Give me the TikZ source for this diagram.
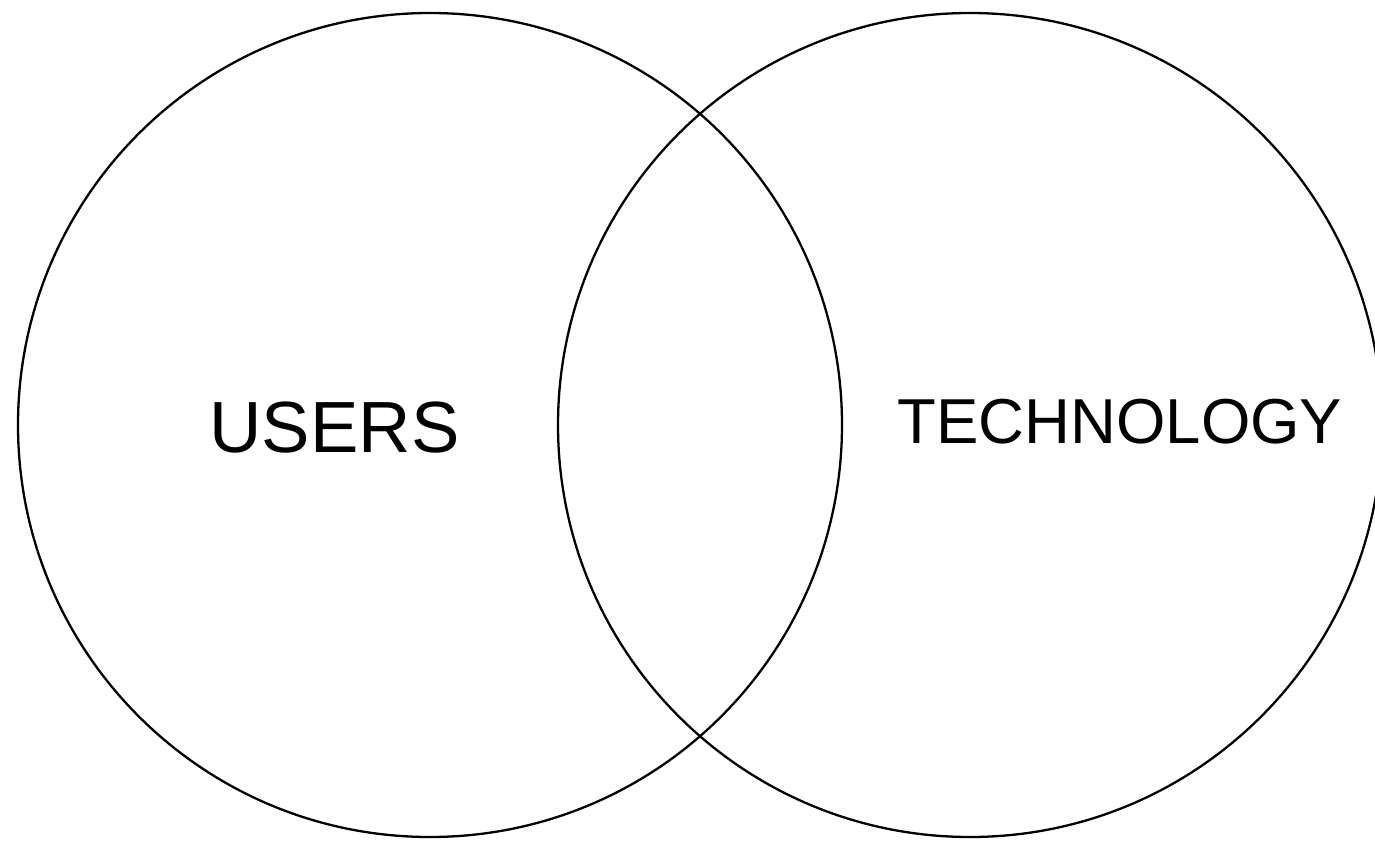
\documentclass[tikz,border=0pt]{standalone}
\usepackage{fontspec}
\setmainfont{Liberation Sans}
\begin{document}
\begin{tikzpicture}[x=1pt,y=-1pt,
  setcircle/.style={draw=black, line width=2.3pt, circle, inner sep=0pt, minimum size=824pt},
  label/.style={anchor=base, inner sep=0pt}]
\clip (0,0) rectangle (1375,840);
\node[setcircle] (users) at (430,425) {};
\node[setcircle] (tech) at (970,425) {};
\node[label, font=\fontsize{72.5}{80}\selectfont] (ulabel) at (334.5,452) {USERS};
\node[label, font=\fontsize{63.5}{72}\selectfont] (tlabel) at (1120,443) {TECHNOLOGY};
\end{tikzpicture}
\end{document}
